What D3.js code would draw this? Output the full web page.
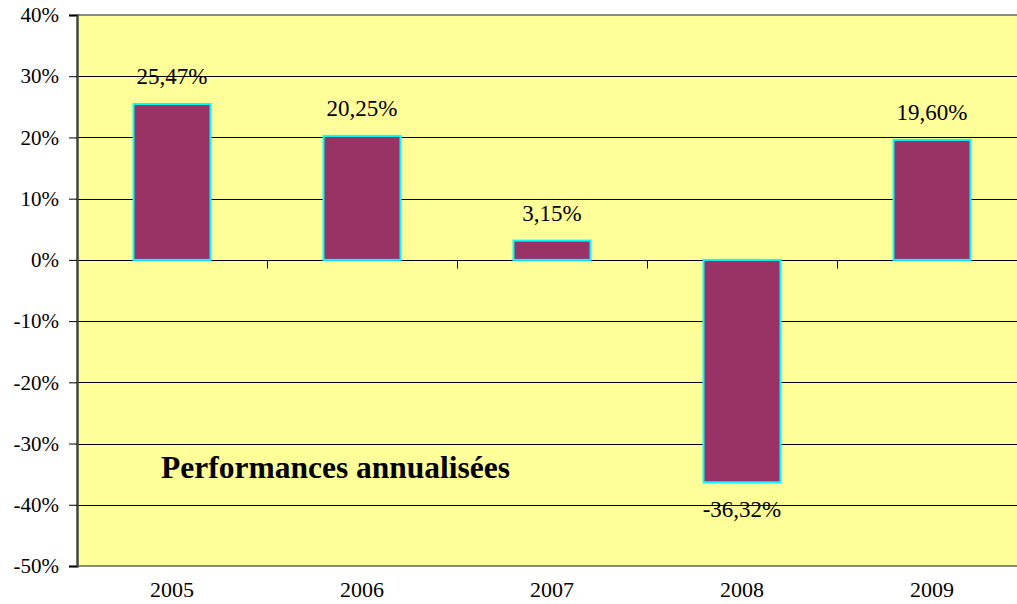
<!DOCTYPE html>
<html lang="fr">
<head>
<meta charset="UTF-8">
<script src="https://d3js.org/d3.v7.min.js"></script>
<style>
  body { margin: 0; background: #fff; }
</style>
</head>
<body>
<div id="chart"></div>
<script>
  // Data
  const years = ["2005", "2006", "2007", "2008", "2009"];
  const perf = [25.47, 20.25, 3.15, -36.32, 19.60];
  const yTicks = [40, 30, 20, 10, 0, -10, -20, -30, -40, -50];
  const title = "Performances annualisées";

  const W = 1017, H = 604;
  const plotL = 77, plotT = 15, plotR = 1027, plotB = 566;
  const serif = "'Liberation Serif', 'Times New Roman', serif";

  const svg = d3.select("#chart").append("svg")
      .attr("width", W).attr("height", H)
      .style("font-family", serif);

  const x = d3.scaleBand().domain(years).range([plotL, plotR]).paddingInner(0).paddingOuter(0);
  const y = d3.scaleLinear().domain([-50, 40]).range([plotB, plotT]);
  const barW = 77;

  // plot background
  svg.append("rect")
      .attr("x", plotL).attr("y", plotT)
      .attr("width", plotR - plotL).attr("height", plotB - plotT)
      .attr("fill", "#FFFF99");

  // gridlines
  svg.append("g").selectAll("line")
    .data(yTicks.filter(d => d !== 40 && d !== -50))
    .join("line")
      .attr("x1", plotL).attr("x2", plotR)
      .attr("y1", d => Math.round(y(d)) + 0.5).attr("y2", d => Math.round(y(d)) + 0.5)
      .attr("stroke", "#000").attr("stroke-width", 1);

  // top and bottom borders
  svg.append("line").attr("x1", plotL).attr("x2", plotR).attr("y1", plotT).attr("y2", plotT)
      .attr("stroke", "#8a8a8a").attr("stroke-width", 2);
  svg.append("line").attr("x1", plotL).attr("x2", plotR).attr("y1", plotB).attr("y2", plotB)
      .attr("stroke", "#8a8a8a").attr("stroke-width", 2);

  // y axis
  const yAxis = svg.append("g")
      .attr("transform", `translate(${plotL},0)`)
      .call(d3.axisLeft(y).tickValues(yTicks).tickSize(8).tickPadding(10).tickFormat(d => d + "%"))
      .attr("font-family", null).attr("font-size", null);
  yAxis.select(".domain").attr("stroke", "#444").attr("stroke-width", 2.5);
  yAxis.selectAll(".tick line").attr("stroke", "#000");
  yAxis.selectAll("text")
      .style("font-family", serif)
      .style("font-size", "21px")
      .attr("fill", "#000");

  // x axis on zero line with ticks between categories
  const zeroY = Math.round(y(0)) + 0.5;
  svg.append("g").selectAll("line")
    .data(years.slice(1))
    .join("line")
      .attr("x1", d => Math.round(x(d)) + 0.5).attr("x2", d => Math.round(x(d)) + 0.5)
      .attr("y1", zeroY).attr("y2", zeroY + 8)
      .attr("stroke", "#000");

  // year labels
  svg.append("g").selectAll("text")
    .data(years)
    .join("text")
      .attr("x", d => x(d) + x.bandwidth() / 2)
      .attr("y", 597)
      .attr("text-anchor", "middle")
      .style("font-family", serif)
      .style("font-size", "22px")
      .text(d => d);

  const rows = years.map((d, i) => ({ year: d, v: perf[i] }));

  // bars
  svg.append("g").selectAll("rect")
    .data(rows)
    .join("rect")
      .attr("x", d => x(d.year) + (x.bandwidth() - barW) / 2)
      .attr("y", d => y(Math.max(0, d.v)))
      .attr("width", barW)
      .attr("height", d => Math.abs(y(d.v) - y(0)))
      .attr("fill", "#993366")
      .attr("stroke", "#00FFFF")
      .attr("stroke-width", 2);

  // value labels
  svg.append("g").selectAll("text")
    .data(rows)
    .join("text")
      .attr("x", d => x(d.year) + x.bandwidth() / 2)
      .attr("y", d => d.v >= 0 ? y(d.v) - 20 : y(d.v) + 35)
      .attr("text-anchor", "middle")
      .style("font-family", serif)
      .style("font-size", "23px")
      .text(d => d.v.toFixed(2).replace(".", ",") + "%");

  // title
  svg.append("text")
      .attr("x", 161).attr("y", 478)
      .style("font-family", serif)
      .style("font-size", "31.5px")
      .style("font-weight", "bold")
      .text(title);
</script>
</body>
</html>
